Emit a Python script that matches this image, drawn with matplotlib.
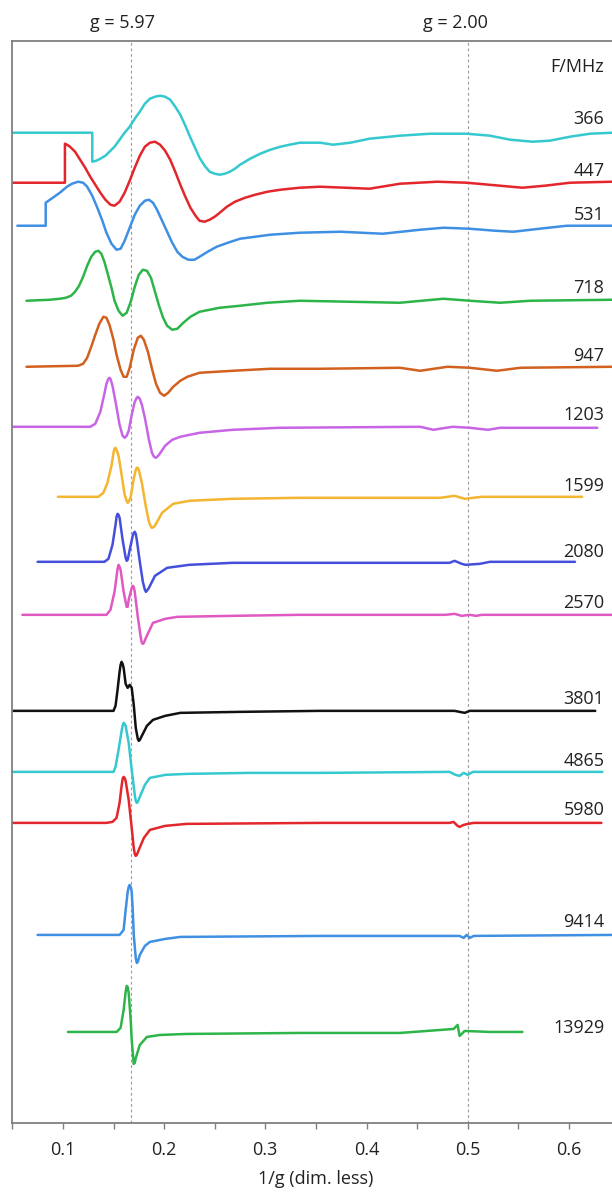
import matplotlib
matplotlib.use("Agg")
import matplotlib.pyplot as plt
from matplotlib.ticker import MultipleLocator

plt.rcParams["font.family"] = ["Open Sans", "DejaVu Sans"]

# --- espectros (x = 1/g, s = sinal relativo à linha de base, unid. arb.) ---
x_366 = [0.050, 0.129, 0.129, 0.133, 0.137, 0.142, 0.147, 0.151, 0.156, 0.161, 0.166, 0.171, 0.176, 0.181,
         0.186, 0.191, 0.196, 0.201, 0.206, 0.211, 0.216, 0.221, 0.226, 0.231, 0.235, 0.240, 0.245, 0.250,
         0.255, 0.260, 0.265, 0.270, 0.275, 0.285, 0.295, 0.305, 0.315, 0.324, 0.334, 0.344, 0.354, 0.367,
         0.384, 0.403, 0.433, 0.463, 0.499, 0.522, 0.542, 0.564, 0.581, 0.601, 0.621, 0.643]
s_366 = [1, 1, -28, -27, -25, -22, -17, -13, -6, 1, 7, 15, 22, 30,
         35, 37, 38, 37, 34, 27, 19, 8, -4, -15, -24, -32, -38, -40,
         -41, -40, -38, -35, -31, -25, -20, -16, -13, -11, -9, -9, -9, -11,
         -9, -5, -2, 0, 0, -2, -6, -8, -7, -3, 0, 1]

x_447 = [0.050, 0.102, 0.102, 0.104, 0.107, 0.112, 0.117, 0.122, 0.127, 0.132, 0.137, 0.142, 0.147, 0.151,
         0.156, 0.161, 0.166, 0.171, 0.176, 0.181, 0.186, 0.191, 0.196, 0.201, 0.206, 0.211, 0.216, 0.221,
         0.226, 0.231, 0.235, 0.240, 0.245, 0.250, 0.255, 0.262, 0.270, 0.280, 0.290, 0.302, 0.315, 0.334,
         0.354, 0.379, 0.403, 0.433, 0.470, 0.499, 0.532, 0.554, 0.576, 0.601, 0.643]
s_447 = [0, 0, 39, 38, 36, 31, 23, 15, 6, -2, -10, -17, -22, -23,
         -19, -10, 2, 15, 27, 36, 40, 41, 38, 32, 23, 11, -2, -14,
         -25, -33, -38, -39, -37, -34, -30, -24, -19, -15, -12, -9, -7, -5,
         -4, -5, -6, -1, 1, 0, -3, -5, -3, 0, 1]

x_531 = [0.055, 0.083, 0.083, 0.090, 0.097, 0.104, 0.109, 0.115, 0.120, 0.124, 0.129, 0.134, 0.139, 0.143,
         0.148, 0.153, 0.157, 0.161, 0.166, 0.171, 0.176, 0.181, 0.185, 0.189, 0.193, 0.198, 0.203, 0.208,
         0.213, 0.218, 0.224, 0.230, 0.235, 0.243, 0.252, 0.263, 0.275, 0.290, 0.305, 0.334, 0.374, 0.416,
         0.453, 0.476, 0.502, 0.527, 0.545, 0.571, 0.598, 0.643]
s_531 = [6, 6, 29, 34, 39, 45, 48, 50, 49, 45, 36, 24, 11, -1,
         -12, -18, -17, -9, 4, 17, 26, 31, 32, 29, 22, 11, 0, -11,
         -20, -25, -28, -28, -25, -20, -15, -11, -7, -5, -3, -1, 0, -2,
         2, 4, 3, 1, 0, 3, 6, 6]

x_718 = [0.064, 0.087, 0.097, 0.103, 0.108, 0.112, 0.116, 0.120, 0.124, 0.128, 0.132, 0.135, 0.138, 0.141,
         0.144, 0.148, 0.151, 0.155, 0.159, 0.163, 0.167, 0.171, 0.175, 0.179, 0.183, 0.187, 0.191, 0.195,
         0.199, 0.203, 0.208, 0.213, 0.219, 0.226, 0.235, 0.255, 0.275, 0.302, 0.334, 0.433, 0.476, 0.502,
         0.532, 0.562, 0.643]
s_718 = [0, 1, 2, 3, 5, 9, 15, 24, 35, 44, 49, 50, 47, 39,
         28, 13, 0, -10, -15, -12, -1, 14, 26, 31, 30, 23, 9, -5,
         -17, -25, -29, -28, -22, -16, -11, -7, -5, -2, 0, -2, 2, 0,
         -2, 0, 1]

x_947 = [0.064, 0.115, 0.120, 0.124, 0.128, 0.132, 0.136, 0.140, 0.143, 0.146, 0.150, 0.153, 0.157, 0.160,
         0.163, 0.166, 0.170, 0.174, 0.177, 0.180, 0.184, 0.188, 0.192, 0.196, 0.200, 0.204, 0.209, 0.216,
         0.223, 0.235, 0.268, 0.305, 0.354, 0.433, 0.453, 0.480, 0.502, 0.529, 0.552, 0.643]
s_947 = [1, 2, 4, 10, 21, 33, 44, 51, 50, 43, 28, 13, -2, -9,
         -9, 0, 18, 30, 32, 28, 16, -1, -16, -25, -28, -25, -19, -13,
         -9, -5, -3, -1, -1, 0, -3, 1, 0, -3, 0, 1]

x_1203 = [0.050, 0.127, 0.132, 0.137, 0.141, 0.143, 0.145, 0.146, 0.147, 0.149, 0.152, 0.156, 0.159, 0.161,
          0.163, 0.165, 0.168, 0.171, 0.173, 0.174, 0.176, 0.178, 0.181, 0.185, 0.188, 0.190, 0.192, 0.195,
          0.201, 0.208, 0.216, 0.235, 0.268, 0.314, 0.453, 0.466, 0.485, 0.502, 0.520, 0.532, 0.628]
s_1203 = [1, 1, 4, 16, 34, 44, 49, 50, 49, 42, 26, 3, -8, -10,
          -8, -3, 13, 26, 30, 31, 29, 23, 10, -12, -25, -29, -30, -27,
          -18, -12, -9, -5, -2, 0, 1, -2, 1, 0, -2, 0, 0]

x_1599 = [0.095, 0.135, 0.140, 0.144, 0.148, 0.150, 0.151, 0.152, 0.153, 0.155, 0.158, 0.161, 0.163, 0.164,
          0.165, 0.167, 0.170, 0.172, 0.173, 0.174, 0.175, 0.178, 0.182, 0.185, 0.187, 0.188, 0.190, 0.192,
          0.198, 0.209, 0.225, 0.268, 0.334, 0.473, 0.487, 0.497, 0.514, 0.613]
s_1599 = [1, 1, 5, 15, 32, 45, 49, 50, 48, 42, 23, 3, -3, -5,
          -4, 1, 19, 28, 30, 30, 28, 15, -9, -24, -29, -30, -29, -26,
          -15, -6, -3, -1, 0, 0, 2, -1, 1, 1]

x_2080 = [0.075, 0.141, 0.145, 0.149, 0.152, 0.153, 0.154, 0.155, 0.156, 0.159, 0.162, 0.163, 0.164, 0.166,
          0.169, 0.170, 0.171, 0.172, 0.173, 0.176, 0.179, 0.181, 0.182, 0.183, 0.185, 0.191, 0.203, 0.225,
          0.268, 0.428, 0.482, 0.487, 0.494, 0.498, 0.512, 0.522, 0.606]
s_2080 = [1, 1, 4, 18, 38, 46, 49, 48, 45, 23, 5, 2, 3, 13,
          27, 30, 31, 29, 23, 1, -19, -27, -29, -28, -25, -13, -5, -2,
          0, 0, 0, 2, -1, -2, -1, 1, 1]

x_2570 = [0.060, 0.143, 0.147, 0.151, 0.153, 0.154, 0.155, 0.156, 0.157, 0.160, 0.163, 0.164, 0.165, 0.168,
          0.169, 0.170, 0.171, 0.174, 0.177, 0.178, 0.179, 0.180, 0.182, 0.189, 0.201, 0.213, 0.268, 0.334,
          0.478, 0.487, 0.494, 0.502, 0.508, 0.514, 0.643]
s_2570 = [0, 0, 5, 23, 38, 46, 50, 48, 45, 23, 8, 8, 15, 27,
          29, 28, 23, -2, -23, -28, -29, -28, -23, -8, -4, -2, -1, 0,
          0, 1, -1, 0, -1, 0, 0]

x_3801 = [0.050, 0.150, 0.152, 0.154, 0.156, 0.157, 0.158, 0.159, 0.160, 0.162, 0.164, 0.166, 0.168, 0.170,
          0.172, 0.174, 0.175, 0.176, 0.178, 0.183, 0.189, 0.201, 0.216, 0.275, 0.354, 0.487, 0.497, 0.502,
          0.626]
s_3801 = [0, 0, 5, 21, 39, 46, 49, 47, 43, 27, 23, 26, 23, 6,
          -17, -28, -30, -29, -25, -15, -9, -5, -2, -1, 0, 0, -2, 0,
          0]

x_4865 = [0.050, 0.150, 0.152, 0.155, 0.158, 0.159, 0.160, 0.161, 0.162, 0.165, 0.168, 0.171, 0.172, 0.173,
          0.174, 0.176, 0.181, 0.186, 0.201, 0.222, 0.285, 0.354, 0.482, 0.488, 0.492, 0.496, 0.500, 0.505,
          0.633]
s_4865 = [0, 0, 5, 22, 41, 46, 49, 48, 46, 29, 2, -23, -29, -31,
          -30, -25, -13, -6, -3, -2, -1, -1, 0, -3, -4, -1, -3, 0,
          0]

x_5980 = [0.050, 0.143, 0.149, 0.153, 0.156, 0.158, 0.159, 0.160, 0.161, 0.162, 0.165, 0.168, 0.170, 0.171,
          0.172, 0.173, 0.175, 0.180, 0.186, 0.201, 0.222, 0.354, 0.482, 0.486, 0.490, 0.492, 0.496, 0.500,
          0.506, 0.632]
s_5980 = [0, 0, 1, 5, 20, 37, 44, 46, 45, 42, 23, -5, -25, -31,
          -33, -32, -27, -15, -7, -3, -1, 0, 0, 1, -3, -4, -2, -1,
          0, 0]

x_9414 = [0.075, 0.156, 0.160, 0.162, 0.164, 0.165, 0.166, 0.167, 0.168, 0.169, 0.170, 0.172, 0.173, 0.174,
          0.176, 0.181, 0.186, 0.201, 0.216, 0.354, 0.492, 0.496, 0.499, 0.502, 0.506, 0.643]
s_9414 = [1, 1, 6, 26, 44, 49, 51, 49, 44, 26, 1, -22, -27, -26,
          -19, -10, -6, -3, -1, 0, 0, -2, 1, -2, 0, 1]

x_13929 = [0.105, 0.153, 0.157, 0.160, 0.162, 0.163, 0.164, 0.165, 0.167, 0.168, 0.170, 0.171, 0.172, 0.176,
           0.183, 0.196, 0.222, 0.334, 0.433, 0.473, 0.486, 0.490, 0.492, 0.494, 0.497, 0.522, 0.554]
s_13929 = [0, 0, 4, 22, 40, 46, 45, 39, 12, -8, -32, -31, -26, -13,
           -5, -3, -2, -1, -1, 2, 3, 7, -4, -2, 1, 0, 0]

freqs = ["366", "447", "531", "718", "947", "1203", "1599", "2080", "2570", "3801", "4865", "5980", "9414", "13929"]
offsets = [989, 940, 891, 822, 755, 695, 625, 560, 508, 412, 351, 300, 187, 91]
label_y = [1004, 952, 908, 835, 767, 708, 637, 571, 520, 424, 362, 313, 201, 95]
colors = ["#35C9CF", "#E3262B", "#3F8FE3", "#2DB54A", "#D2601E", "#C865E6", "#F4B530",
          "#4450DC", "#E058C2", "#111111", "#35C9CF", "#E3262B", "#3F8FE3", "#2DB54A"]

spectra = [(x_366, s_366), (x_447, s_447), (x_531, s_531), (x_718, s_718), (x_947, s_947),
           (x_1203, s_1203), (x_1599, s_1599), (x_2080, s_2080), (x_2570, s_2570), (x_3801, s_3801),
           (x_4865, s_4865), (x_5980, s_5980), (x_9414, s_9414), (x_13929, s_13929)]

g_marks = [5.97, 2.00]

fig = plt.figure(figsize=(6.12, 11.93), dpi=100)
ax = fig.add_axes([0.0201, 0.0587, 0.9922, 0.9072])

for g in g_marks:
    ax.axvline(1 / g, color="#9a9a9a", lw=0.8, ls=(0, (2.5, 2.5)), zorder=1)

for (xs, ss), off, c in zip(spectra, offsets, colors):
    ax.plot(xs, [off + s for s in ss], color=c, lw=1.8, solid_joinstyle="round",
            solid_capstyle="round", zorder=2)

for f, yl in zip(freqs, label_y):
    ax.text(0.635, yl, f, ha="right", va="center", fontsize=13, color="#222222")
ax.text(0.635, 1056, "F/MHz", ha="right", va="center", fontsize=13, color="#222222")

ax.text(0.1585, 1.016, "g = 5.97", transform=ax.get_xaxis_transform(), ha="center", va="center",
        fontsize=13, color="#222222")
ax.text(0.488, 1.016, "g = 2.00", transform=ax.get_xaxis_transform(), ha="center", va="center",
        fontsize=13, color="#222222")

ax.set_xlim(0.05, 0.65)
ax.set_ylim(0, 1082)
ax.xaxis.set_major_locator(MultipleLocator(0.1))
ax.xaxis.set_minor_locator(MultipleLocator(0.05))
ax.set_xticklabels([f"{v:.1f}" if v > 0.05 else "" for v in ax.get_xticks()])
ax.tick_params(axis="x", which="both", direction="out", length=4, width=1, color="#808080",
               labelsize=13, labelcolor="#222222", pad=9)
ax.set_yticks([])
for sp in ax.spines.values():
    sp.set_color("#808080")
    sp.set_linewidth(1.3)
ax.set_xlabel("1/g (dim. less)", fontsize=13, color="#222222", labelpad=8)

fig.savefig("out.png", dpi=100)
